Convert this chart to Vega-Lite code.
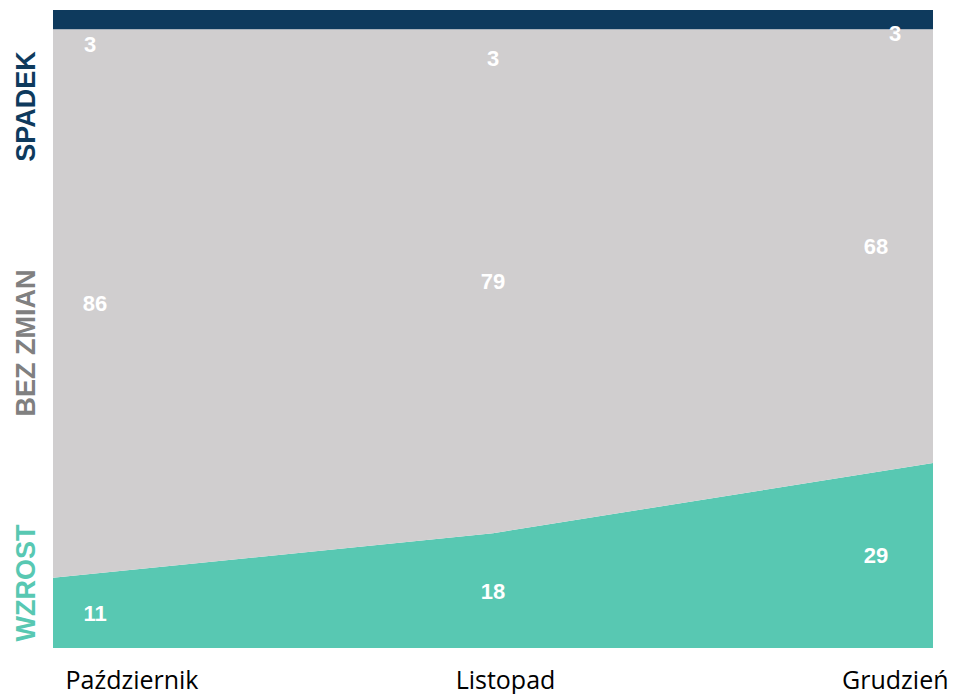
{
  "$schema": "https://vega.github.io/schema/vega-lite/v6.json",
  "width": 880,
  "height": 638,
  "autosize": {"type": "none"},
  "padding": {"left": 53, "top": 10, "right": 20, "bottom": 46},
  "background": "white",
  "config": {"view": {"stroke": null}},
  "data": {
    "values": [
      {"month": "Październik", "series": "WZROST", "value": 11, "order": 1},
      {"month": "Październik", "series": "BEZ ZMIAN", "value": 86, "order": 2},
      {"month": "Październik", "series": "SPADEK", "value": 3, "order": 3},
      {"month": "Listopad", "series": "WZROST", "value": 18, "order": 1},
      {"month": "Listopad", "series": "BEZ ZMIAN", "value": 79, "order": 2},
      {"month": "Listopad", "series": "SPADEK", "value": 3, "order": 3},
      {"month": "Grudzień", "series": "WZROST", "value": 29, "order": 1},
      {"month": "Grudzień", "series": "BEZ ZMIAN", "value": 68, "order": 2},
      {"month": "Grudzień", "series": "SPADEK", "value": 3, "order": 3}
    ]
  },
  "encoding": {
    "x": {
      "field": "month",
      "type": "ordinal",
      "sort": ["Październik", "Listopad", "Grudzień"],
      "scale": {"type": "point", "padding": 0},
      "axis": {
        "title": null,
        "domain": false,
        "ticks": false,
        "labelAngle": 0,
        "labelOverlap": false,
        "labelFont": "Open Sans",
        "labelFontSize": 25,
        "labelColor": "#000000",
        "labelPadding": 20,
        "labelBaseline": "top",
        "labelAlign": {"condition": [{"test": "datum.value == 'Październik'", "value": "left"}, {"test": "datum.value == 'Grudzień'", "value": "right"}], "value": "center"},
        "labelOffset": {"condition": {"test": "datum.value == 'Grudzień'", "value": 15}, "value": 12}
      }
    }
  },
  "layer": [
    {
      "mark": {"type": "area", "interpolate": "linear"},
      "encoding": {
        "y": {
          "field": "value",
          "type": "quantitative",
          "stack": "zero",
          "scale": {"domain": [0, 100], "nice": false},
          "axis": {
            "title": null,
            "domain": false,
            "ticks": false,
            "grid": false,
            "labelOverlap": false,
            "values": [10.27, 47.9, 84.95],
            "labelExpr": "datum.value < 20 ? 'WZROST' : (datum.value < 60 ? 'BEZ ZMIAN' : 'SPADEK')",
            "labelAngle": 270,
            "labelAlign": "center",
            "labelBaseline": "alphabetic",
            "labelPadding": 19,
            "labelFont": "Liberation Sans",
            "labelFontWeight": "bold",
            "labelFontSize": {"condition": {"test": "datum.value > 20 && datum.value < 60", "value": 27}, "value": 27},
            "labelColor": {"condition": [{"test": "datum.value < 20", "value": "#58c8b2"}, {"test": "datum.value < 60", "value": "#808080"}], "value": "#0e3a5d"}
          }
        },
        "color": {
          "field": "series",
          "type": "nominal",
          "scale": {"domain": ["WZROST", "BEZ ZMIAN", "SPADEK"], "range": ["#58c8b2", "#d0cecf", "#0e3a5d"]},
          "legend": null
        },
        "order": {"field": "order", "type": "quantitative"}
      }
    },
    {
      "transform": [
        {"stack": "value", "groupby": ["month"], "sort": [{"field": "order"}], "as": ["y0", "y1"]},
        {"calculate": "(datum.y0 + datum.y1) / 2", "as": "mid"},
        {"filter": "datum.series != 'SPADEK' && datum.month == 'Październik'"}
      ],
      "mark": {"type": "text", "font": "Liberation Sans", "fontWeight": "bold", "fontSize": 22, "color": "white", "dx": 42, "dy": 1, "baseline": "middle"},
      "encoding": {"y": {"field": "mid", "type": "quantitative"}, "text": {"field": "value"}}
    },
    {
      "transform": [
        {"stack": "value", "groupby": ["month"], "sort": [{"field": "order"}], "as": ["y0", "y1"]},
        {"calculate": "(datum.y0 + datum.y1) / 2", "as": "mid"},
        {"filter": "datum.series != 'SPADEK' && datum.month == 'Listopad'"}
      ],
      "mark": {"type": "text", "font": "Liberation Sans", "fontWeight": "bold", "fontSize": 22, "color": "white", "dx": 0, "dy": 1, "baseline": "middle"},
      "encoding": {"y": {"field": "mid", "type": "quantitative"}, "text": {"field": "value"}}
    },
    {
      "transform": [
        {"stack": "value", "groupby": ["month"], "sort": [{"field": "order"}], "as": ["y0", "y1"]},
        {"calculate": "(datum.y0 + datum.y1) / 2", "as": "mid"},
        {"filter": "datum.series != 'SPADEK' && datum.month == 'Grudzień'"}
      ],
      "mark": {"type": "text", "font": "Liberation Sans", "fontWeight": "bold", "fontSize": 22, "color": "white", "dx": -57, "dy": 1, "baseline": "middle"},
      "encoding": {"y": {"field": "mid", "type": "quantitative"}, "text": {"field": "value"}}
    },
    {
      "transform": [{"filter": "datum.series == 'SPADEK' && datum.month == 'Październik'"}],
      "mark": {"type": "text", "font": "Liberation Sans", "fontWeight": "bold", "fontSize": 22, "color": "white", "dx": 37, "dy": 35, "baseline": "middle"},
      "encoding": {"y": {"datum": 100, "type": "quantitative"}, "text": {"field": "value"}}
    },
    {
      "transform": [{"filter": "datum.series == 'SPADEK' && datum.month == 'Listopad'"}],
      "mark": {"type": "text", "font": "Liberation Sans", "fontWeight": "bold", "fontSize": 22, "color": "white", "dx": 0, "dy": 49, "baseline": "middle"},
      "encoding": {"y": {"datum": 100, "type": "quantitative"}, "text": {"field": "value"}}
    },
    {
      "transform": [{"filter": "datum.series == 'SPADEK' && datum.month == 'Grudzień'"}],
      "mark": {"type": "text", "font": "Liberation Sans", "fontWeight": "bold", "fontSize": 22, "color": "white", "dx": -38, "dy": 24, "baseline": "middle"},
      "encoding": {"y": {"datum": 100, "type": "quantitative"}, "text": {"field": "value"}}
    }
  ]
}
